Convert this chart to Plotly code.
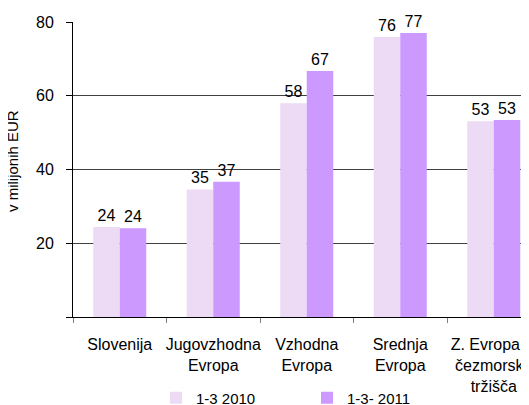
import plotly.graph_objects as go

categories = ["Slovenija", "Jugovzhodna<br>Evropa", "Vzhodna<br>Evropa", "Srednja<br>Evropa",
              "Z. Evropa in<br>čezmorska<br>tržišča"]
values_2010 = [24.4, 34.6, 58.0, 75.9, 53.1]
values_2011 = [24.1, 36.7, 66.7, 77.0, 53.4]
series_names = ["1-3 2010", "1-3- 2011"]
y_ticks = [0, 20, 40, 60, 80]

FONT = "Liberation Sans, Arial, sans-serif"
OFF = 8  # page body margin offset
W, H = 529 - OFF, 405 - OFF
L, T, B = 73 - OFF, 22 - OFF, 405 - 317
PW, PH = W - L, H - T - B

fig = go.Figure()
fig.add_trace(go.Bar(
    x=categories, y=values_2010, name=series_names[0],
    marker=dict(color="#EDDAF5", line=dict(width=0)),
    text=[f"{v:.0f}" for v in values_2010], textposition="outside",
    textfont=dict(size=16, color="#000000", family=FONT), cliponaxis=False,
))
fig.add_trace(go.Bar(
    x=categories, y=values_2011, name=series_names[1],
    marker=dict(color="#CC99FF", line=dict(width=0)),
    text=[f"{v:.0f}" for v in values_2011], textposition="outside",
    textfont=dict(size=16, color="#000000", family=FONT), cliponaxis=False,
))

fig.update_layout(
    width=W, height=H,
    margin=dict(l=L, r=0, t=T, b=B, pad=0, autoexpand=False),
    paper_bgcolor="white", plot_bgcolor="white",
    font=dict(family=FONT, size=16, color="#000000"),
    barmode="group", bargap=0.433, bargroupgap=0,
    showlegend=True,
    legend=dict(orientation="h", x=(156 - 73) / PW, xanchor="left",
                y=(317 - 398) / PH, yanchor="middle",
                font=dict(size=15, family=FONT), entrywidth=106, entrywidthmode="pixels",
                bgcolor="rgba(0,0,0,0)", traceorder="normal"),
)
fig.update_xaxes(
    type="category", range=[-0.5, 4.377], automargin=False, tickangle=0,
    showline=True, linecolor="#000000", linewidth=1,
    ticks="outside", tickson="boundaries", ticklen=5, tickcolor="#808080",
    ticklabelstandoff=13, showgrid=False, tickfont=dict(size=16, family=FONT),
)
fig.update_yaxes(
    range=[0, 80], tickvals=y_ticks, ticktext=["", "20", "40", "60", "80"], automargin=False,
    showline=True, linecolor="#000000", linewidth=1,
    ticks="outside", ticklen=6, tickcolor="#000000",
    showgrid=True, gridcolor="#404040", gridwidth=1,
    zeroline=False, ticklabelstandoff=9, tickfont=dict(size=16, family=FONT),
)
fig.add_annotation(
    text="v milijonih EUR", textangle=-90, xref="paper", yref="paper",
    x=(12 - 73) / PW, y=(317 - 161) / PH, xanchor="center", yanchor="middle",
    showarrow=False, font=dict(size=15, family=FONT),
)
fig.write_html("out.html")
